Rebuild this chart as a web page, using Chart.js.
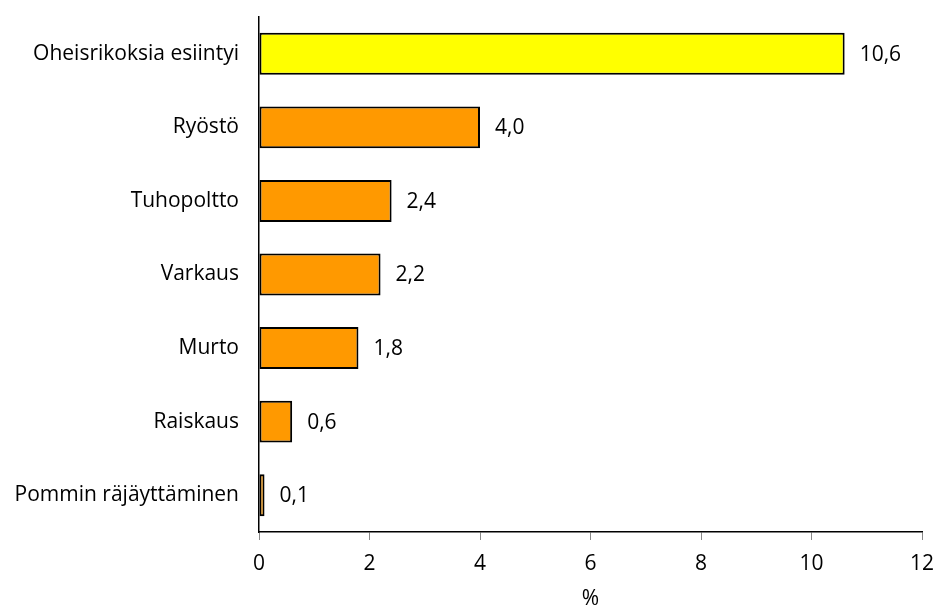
<!DOCTYPE html>
<html>
<head>
<meta charset="utf-8">
<script src="https://cdn.jsdelivr.net/npm/chart.js@4/dist/chart.umd.min.js"></script>
<style>
html,body{margin:0;padding:0;background:#fff;}
#wrap{width:936px;height:612px;position:relative;}
</style>
</head>
<body>
<div id="wrap"><canvas id="c" width="936" height="612"></canvas></div>
<script>
const categories = ["Oheisrikoksia esiintyi","Ryöstö","Tuhopoltto","Varkaus","Murto","Raiskaus","Pommin räjäyttäminen"];
const values = [10.6, 4.0, 2.4, 2.2, 1.8, 0.6, 0.1];
const barColors = ["#ffff00","#ff9900","#ff9900","#ff9900","#ff9900","#ff9900","#ff9900"];
const xTicks = [0,2,4,6,8,10,12];
const axisTitle = "%";

const FONT = "'Open Sans', 'Liberation Sans', sans-serif";
const FS = 21;

const labelPlugin = {
  id: 'valueLabels',
  afterDatasetsDraw(chart) {
    const ctx = chart.ctx;
    const meta = chart.getDatasetMeta(0);
    ctx.save();
    ctx.font = FS + "px " + FONT;
    ctx.fillStyle = "#000";
    ctx.textAlign = "left";
    ctx.textBaseline = "middle";
    meta.data.forEach((bar, i) => {
      const txt = values[i].toFixed(1).replace('.', ',');
      ctx.fillText(txt, bar.x + 15, bar.y + 1);
    });
    ctx.restore();
  }
};

function zeroPad(scale) {
  scale.paddingLeft = 0; scale.paddingRight = 0;
  scale.paddingTop = 0; scale.paddingBottom = 0;
}

new Chart(document.getElementById('c'), {
  type: 'bar',
  data: {
    labels: categories,
    datasets: [{
      data: values,
      backgroundColor: barColors,
      borderColor: "#000",
      borderWidth: 2,
      borderSkipped: false,
      categoryPercentage: 0.57,
      barPercentage: 1.0
    }]
  },
  options: {
    indexAxis: 'y',
    responsive: false,
    animation: false,
    layout: { padding: { left: 0, right: 14, top: 17, bottom: 0 } },
    plugins: { legend: { display: false }, tooltip: { enabled: false } },
    scales: {
      x: {
        min: 0, max: 12,
        afterBuildTicks(scale) { scale.ticks = xTicks.map(v => ({ value: v })); },
        grid: { display: true, drawOnChartArea: false, drawTicks: true, tickLength: 8, color: "#888", lineWidth: 1 },
        border: { display: true, color: "#000", width: 1.5 },
        ticks: { color: "#000", font: { size: FS, family: FONT }, padding: 11, maxRotation: 0 },
        title: { display: true, text: axisTitle, color: "#000", font: { size: FS, family: FONT }, padding: { top: 6, bottom: 0 } },
        afterFit(scale) { scale.height = 80; zeroPad(scale); }
      },
      y: {
        grid: { display: false, drawTicks: false },
        border: { display: true, color: "#000", width: 1.5 },
        ticks: { color: "#000", font: { size: FS, family: FONT }, padding: 20 },
        afterFit(scale) { scale.width = 259; zeroPad(scale); }
      }
    }
  },
  plugins: [labelPlugin]
});
</script>
</body>
</html>
